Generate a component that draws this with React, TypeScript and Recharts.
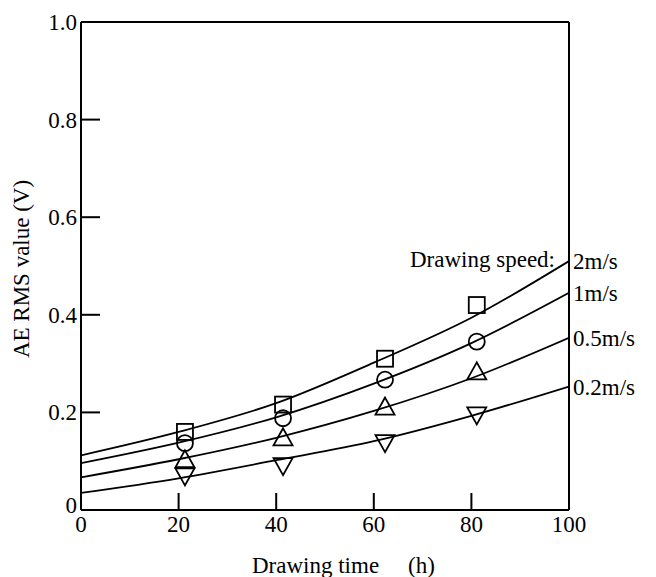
import React from 'react';
import { ComposedChart, Line, Scatter, XAxis, YAxis, LabelList, Label, ReferenceLine } from 'recharts';

const curveX = [0, 20, 40, 60, 80, 100];
const curve2 = [0.112, 0.16, 0.219, 0.302, 0.394, 0.51];
const curve1 = [0.096, 0.138, 0.19, 0.259, 0.342, 0.445];
const curve05 = [0.067, 0.104, 0.148, 0.203, 0.27, 0.353];
const curve02 = [0.035, 0.065, 0.102, 0.141, 0.193, 0.253];

const markerX = [21.3, 41.4, 62.3, 81.1];
const mark2 = [0.16, 0.216, 0.31, 0.42];
const mark1 = [0.137, 0.188, 0.267, 0.345];
const mark05 = [0.104, 0.149, 0.212, 0.284];
const mark02 = [0.069, 0.09, 0.137, 0.194];

const speedLabels = ['2m/s', '1m/s', '0.5m/s', '0.2m/s'];
const speedTitle = 'Drawing speed:';
const xTicks = [0, 20, 40, 60, 80, 100];
const yTicks = [0, 0.2, 0.4, 0.6, 0.8, 1.0];
const yTickLabels = ['0', '0.2', '0.4', '0.6', '0.8', '1.0'];
const xTitle = 'Drawing time';
const xUnit = '(h)';
const yTitle = 'AE RMS value (V)';

const FONT = "'Liberation Serif', 'Times New Roman', serif";
const FS = 23;

const lineRows = curveX.map((x, i) => ({ x, s2: curve2[i], s1: curve1[i], s05: curve05[i], s02: curve02[i] }));
const pts = (ys: number[]) => markerX.map((x, i) => ({ x, y: ys[i] }));

const SW = 1.8;
const Square = (p: any) => (
  <rect x={p.cx - 8} y={p.cy - 8} width={16} height={16} fill="none" stroke="#000" strokeWidth={SW} />
);
const Circ = (p: any) => <circle cx={p.cx} cy={p.cy} r={8} fill="none" stroke="#000" strokeWidth={SW} />;
const TriUp = (p: any) => (
  <polygon
    points={`${p.cx},${p.cy - 9} ${p.cx - 9.5},${p.cy + 8} ${p.cx + 9.5},${p.cy + 8}`}
    fill="none"
    stroke="#000"
    strokeWidth={SW}
  />
);
const TriDown = (p: any) => (
  <polygon
    points={`${p.cx},${p.cy + 9} ${p.cx - 9.5},${p.cy - 8} ${p.cx + 9.5},${p.cy - 8}`}
    fill="none"
    stroke="#000"
    strokeWidth={SW}
  />
);

const XTick = (p: any) => {
  const { x, y, payload } = p;
  const v = payload.value;
  return (
    <g>
      {v > 0 && v < 100 && <line x1={x} x2={x} y1={y} y2={y - 17} stroke="#000" strokeWidth={2} />}
      <text x={x} y={y + 22} textAnchor="middle" fontSize={FS} fontFamily={FONT} fill="#000">
        {v}
      </text>
    </g>
  );
};

const YTick = (p: any) => {
  const { x, y, payload } = p;
  const v = payload.value;
  const idx = yTicks.indexOf(v);
  const label = idx >= 0 ? yTickLabels[idx] : String(v);
  const shift = v === 0 ? -5 : 0;
  return (
    <g>
      {v > 0 && v < 1 && <line x1={x} x2={x + 19} y1={y} y2={y} stroke="#000" strokeWidth={2} />}
      <text x={x - 4} y={y + 8 + shift} textAnchor="end" fontSize={FS} fontFamily={FONT} fill="#000">
        {label}
      </text>
    </g>
  );
};

const endLabel = (text: string, withTitle: boolean) => (p: any) => {
  if (p.index !== curveX.length - 1) return null;
  return (
    <g>
      {withTitle && (
        <text x={p.x - 14} y={p.y + 6} textAnchor="end" fontSize={FS} fontFamily={FONT} fill="#000">
          {speedTitle}
        </text>
      )}
      <text x={p.x + 4} y={p.y + 8} textAnchor="start" fontSize={FS} fontFamily={FONT} fill="#000">
        {text}
      </text>
    </g>
  );
};

export default function App() {
  return (
    <ComposedChart
      width={640}
      height={569}
      data={lineRows}
      margin={{ top: 14, right: 79, bottom: 0, left: 0 }}
      style={{ fontFamily: FONT }}
    >
      <XAxis
        dataKey="x"
        type="number"
        domain={[0, 100]}
        ticks={xTicks}
        interval={0}
        height={67}
        tickSize={0}
        tickMargin={0}
        tickLine={false}
        axisLine={{ stroke: '#000', strokeWidth: 2 }}
        tick={<XTick />}
        allowDataOverflow
      >
        <Label
          content={() => (
            <text y={565} fontSize={FS} fontFamily={FONT} fill="#000">
              <tspan x={244}>{xTitle}</tspan>
              <tspan x={400}>{xUnit}</tspan>
            </text>
          )}
        />
      </XAxis>
      <YAxis
        type="number"
        domain={[0, 1]}
        ticks={yTicks}
        interval={0}
        width={73}
        tickSize={0}
        tickMargin={0}
        tickLine={false}
        axisLine={{ stroke: '#000', strokeWidth: 2 }}
        tick={<YTick />}
        allowDataOverflow
      >
        <Label
          content={() => (
            <text
              transform="translate(21,261) rotate(-90)"
              textAnchor="middle"
              fontSize={FS}
              fontFamily={FONT}
              fill="#000"
            >
              {yTitle}
            </text>
          )}
        />
      </YAxis>
      <ReferenceLine y={1} stroke="#000" strokeWidth={2} ifOverflow="visible" />
      <ReferenceLine x={100} stroke="#000" strokeWidth={2} ifOverflow="visible" />
      <Line dataKey="s2" type="monotone" stroke="#000" strokeWidth={1.8} dot={false} isAnimationActive={false}>
        <LabelList dataKey="s2" content={endLabel(speedLabels[0], true)} />
      </Line>
      <Line dataKey="s1" type="monotone" stroke="#000" strokeWidth={1.8} dot={false} isAnimationActive={false}>
        <LabelList dataKey="s1" content={endLabel(speedLabels[1], false)} />
      </Line>
      <Line dataKey="s05" type="monotone" stroke="#000" strokeWidth={1.8} dot={false} isAnimationActive={false}>
        <LabelList dataKey="s05" content={endLabel(speedLabels[2], false)} />
      </Line>
      <Line dataKey="s02" type="monotone" stroke="#000" strokeWidth={1.8} dot={false} isAnimationActive={false}>
        <LabelList dataKey="s02" content={endLabel(speedLabels[3], false)} />
      </Line>
      <Scatter data={pts(mark2)} dataKey="y" shape={Square} isAnimationActive={false} />
      <Scatter data={pts(mark1)} dataKey="y" shape={Circ} isAnimationActive={false} />
      <Scatter data={pts(mark05)} dataKey="y" shape={TriUp} isAnimationActive={false} />
      <Scatter data={pts(mark02)} dataKey="y" shape={TriDown} isAnimationActive={false} />
    </ComposedChart>
  );
}
